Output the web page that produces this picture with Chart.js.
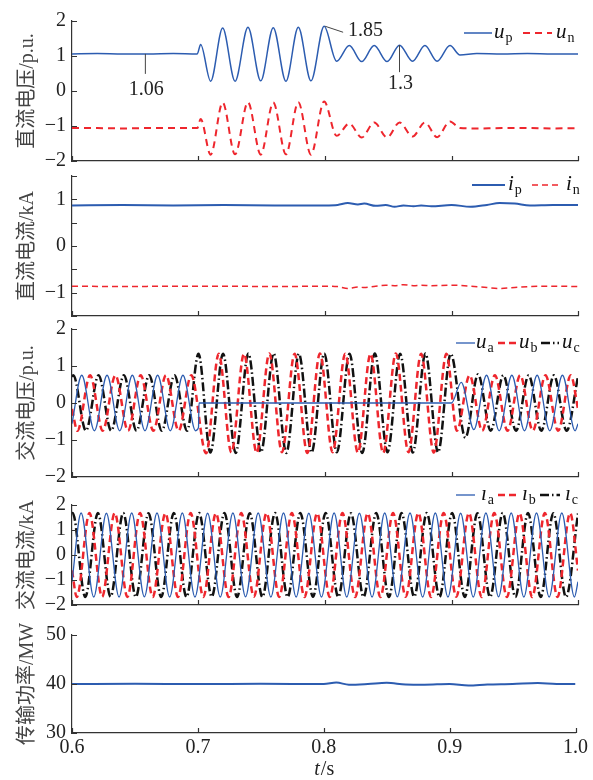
<!DOCTYPE html>
<html>
<head>
<meta charset="utf-8">
<script src="https://cdn.jsdelivr.net/npm/chart.js@4.4.1/dist/chart.umd.min.js"></script>
<style>
html, body { margin: 0; padding: 0; background: #fff; }
#wrap { position: relative; width: 593px; height: 780px; overflow: hidden; }
canvas { position: absolute; left: 0; }
</style>
</head>
<body>
<div id="wrap">
  <canvas id="c1"></canvas>
  <canvas id="c2"></canvas>
  <canvas id="c3"></canvas>
  <canvas id="c4"></canvas>
  <canvas id="c5"></canvas>
</div>
<script>
// ---- data (time in s) ----
// DC voltage, p.u. (peaks / troughs of the oscillation)
const dcT = [0.6, 0.62, 0.64, 0.66, 0.68, 0.699, 0.7017, 0.7096, 0.7191, 0.7289, 0.7391, 0.7492, 0.7591, 0.7691, 0.7789, 0.7889,
  0.7993, 0.8092, 0.8192, 0.829, 0.8389, 0.8491, 0.8589, 0.8692, 0.879, 0.8886, 0.8988, 0.9067, 0.92, 0.94, 0.96, 0.98, 1.0];
const upV = [1.06, 1.07, 1.06, 1.06, 1.07, 1.06, 1.33, 0.28, 1.80, 0.28, 1.82, 0.29, 1.81, 0.28, 1.82, 0.29,
  1.85, 0.85, 1.30, 0.84, 1.30, 0.84, 1.31, 0.85, 1.30, 0.85, 1.30, 1.03, 1.07, 1.06, 1.07, 1.06, 1.06];
const unV = [-1.06, -1.06, -1.07, -1.06, -1.06, -1.06, -0.80, -1.82, -0.33, -1.81, -0.32, -1.82, -0.33, -1.81, -0.32, -1.82,
  -0.30, -1.28, -0.93, -1.33, -0.90, -1.33, -0.90, -1.30, -0.90, -1.32, -0.87, -1.06, -1.07, -1.06, -1.06, -1.07, -1.06];

// DC current, kA
const dciT = [0.6, 0.64, 0.68, 0.72, 0.76, 0.8, 0.81, 0.818, 0.826, 0.831, 0.84, 0.848, 0.855, 0.862, 0.87, 0.876, 0.884,
  0.9, 0.915, 0.928, 0.938, 0.95, 0.962, 0.98, 1.0];
const ipV = [0.87, 0.88, 0.87, 0.88, 0.87, 0.87, 0.88, 0.92, 0.89, 0.91, 0.86, 0.88, 0.84, 0.87, 0.85, 0.87, 0.85,
  0.88, 0.84, 0.88, 0.92, 0.91, 0.87, 0.88, 0.88];
const inV = [-0.86, -0.87, -0.86, -0.86, -0.87, -0.86, -0.87, -0.91, -0.88, -0.89, -0.86, -0.84, -0.85, -0.83, -0.85, -0.84, -0.85,
  -0.84, -0.86, -0.89, -0.91, -0.89, -0.87, -0.86, -0.87];

// AC voltage, p.u. (extrema of each phase)
const uaT = [0.6, 0.6077, 0.6177, 0.6277, 0.6377, 0.6477, 0.6577, 0.6677, 0.6777, 0.6877, 0.6977, 0.7, 0.7004,
  0.9, 0.9077, 0.9177, 0.9277, 0.9377, 0.9477, 0.9577, 0.9677, 0.9777, 0.9877, 0.9977, 1.0];
const uaV = [-0.56, 0.75, -0.75, 0.75, -0.75, 0.75, -0.75, 0.75, -0.75, 0.75, -0.75, -0.66, 0,
  0, 0.56, -0.72, 0.75, -0.75, 0.75, -0.75, 0.75, -0.75, 0.75, -0.75, -0.56];
const ubT = [0.6, 0.6043, 0.6143, 0.6243, 0.6343, 0.6443, 0.6543, 0.6643, 0.6743, 0.6843, 0.6943,
  0.706, 0.716, 0.726, 0.736, 0.746, 0.756, 0.766, 0.776, 0.786, 0.796, 0.806, 0.816, 0.826, 0.836, 0.846, 0.856, 0.866, 0.876, 0.886, 0.896,
  0.9043, 0.9143, 0.9243, 0.9343, 0.9443, 0.9543, 0.9643, 0.9743, 0.9843, 0.9943, 1.0];
const ubV = [-0.16, -0.75, 0.75, -0.75, 0.75, -0.75, 0.75, -0.75, 0.75, -0.75, 0.75,
  -1.36, 1.33, -1.34, 1.33, -1.35, 1.34, -1.33, 1.33, -1.35, 1.34, -1.33, 1.33, -1.34, 1.33, -1.35, 1.34, -1.33, 1.33, -1.34, 1.33,
  -0.75, 0.75, -0.75, 0.75, -0.75, 0.75, -0.75, 0.75, -0.75, 0.75, -0.16];
const ucT = [0.6, 0.601, 0.611, 0.621, 0.631, 0.641, 0.651, 0.661, 0.671, 0.681, 0.691,
  0.7, 0.7094, 0.7194, 0.7294, 0.7394, 0.7494, 0.7594, 0.7694, 0.7794, 0.7894, 0.7994, 0.8094, 0.8194, 0.8294, 0.8394, 0.8494, 0.8594, 0.8694, 0.8794, 0.8894, 0.8994,
  0.911, 0.921, 0.931, 0.941, 0.951, 0.961, 0.971, 0.981, 0.991, 1.0];
const ucV = [0.71, 0.75, -0.75, 0.75, -0.75, 0.75, -0.75, 0.75, -0.75, 0.75, -0.75,
  1.33, -1.34, 1.33, -1.35, 1.34, -1.33, 1.34, -1.35, 1.33, -1.34, 1.34, -1.33, 1.33, -1.35, 1.34, -1.33, 1.33, -1.34, 1.34, -1.33, 1.33,
  -0.94, 0.78, -0.75, 0.75, -0.75, 0.75, -0.75, 0.75, -0.75, 0.71];

// AC current, kA (extrema of each phase)
const iaT = [0.6,
  0.6072, 0.6172, 0.6272, 0.6372, 0.6472, 0.6572, 0.6672, 0.6772, 0.6872, 0.6972,
  0.7072, 0.7172, 0.7272, 0.7372, 0.7472, 0.7572, 0.7672, 0.7772, 0.7872, 0.7972,
  0.8072, 0.8172, 0.8272, 0.8372, 0.8472, 0.8572, 0.8672, 0.8772, 0.8872, 0.8972,
  0.9072, 0.9172, 0.9272, 0.9372, 0.9472, 0.9572, 0.9672, 0.9772, 0.9872, 0.9972, 1.0];
const iaV = [-1.07,
  1.68, -1.68, 1.67, -1.68, 1.68, -1.67, 1.68, -1.68, 1.68, -1.68,
  1.67, -1.68, 1.68, -1.67, 1.68, -1.68, 1.68, -1.68, 1.67, -1.68,
  1.68, -1.68, 1.67, -1.68, 1.68, -1.67, 1.68, -1.68, 1.68, -1.68,
  1.67, -1.68, 1.68, -1.67, 1.68, -1.68, 1.68, -1.68, 1.68, -1.68, -1.07];
const ibT = [0.6,
  0.6038, 0.6138, 0.6238, 0.6338, 0.6438, 0.6538, 0.6638, 0.6738, 0.6838, 0.6938,
  0.7038, 0.7138, 0.7238, 0.7338, 0.7438, 0.7538, 0.7638, 0.7738, 0.7838, 0.7938,
  0.8038, 0.8138, 0.8238, 0.8338, 0.8438, 0.8538, 0.8638, 0.8738, 0.8838, 0.8938,
  0.9038, 0.9138, 0.9238, 0.9338, 0.9438, 0.9538, 0.9638, 0.9738, 0.9838, 0.9938, 1.0];
const ibV = [-0.62,
  -1.68, 1.68, -1.67, 1.68, -1.68, 1.68, -1.68, 1.67, -1.68, 1.68,
  -1.68, 1.67, -1.68, 1.68, -1.67, 1.68, -1.68, 1.68, -1.68, 1.67,
  -1.68, 1.68, -1.68, 1.67, -1.68, 1.68, -1.67, 1.68, -1.68, 1.68,
  -1.67, 1.68, -1.68, 1.68, -1.68, 1.67, -1.68, 1.68, -1.68, 1.68, -0.62];
const icT = [0.6,
  0.6005, 0.6105, 0.6205, 0.6305, 0.6405, 0.6505, 0.6605, 0.6705, 0.6805, 0.6905,
  0.7005, 0.7105, 0.7205, 0.7305, 0.7405, 0.7505, 0.7605, 0.7705, 0.7805, 0.7905,
  0.8005, 0.8105, 0.8205, 0.8305, 0.8405, 0.8505, 0.8605, 0.8705, 0.8805, 0.8905,
  0.9005, 0.9105, 0.9205, 0.9305, 0.9405, 0.9505, 0.9605, 0.9705, 0.9805, 0.9905, 1.0];
const icV = [1.66,
  1.68, -1.68, 1.68, -1.67, 1.68, -1.68, 1.67, -1.68, 1.68, -1.68,
  1.68, -1.67, 1.68, -1.68, 1.67, -1.68, 1.68, -1.68, 1.68, -1.67,
  1.68, -1.68, 1.67, -1.68, 1.68, -1.68, 1.68, -1.67, 1.68, -1.68,
  1.68, -1.68, 1.67, -1.68, 1.68, -1.68, 1.68, -1.68, 1.67, -1.68, 1.66];

// transmitted power, MW
const pT = [0.6, 0.65, 0.7, 0.75, 0.8, 0.81, 0.82, 0.835, 0.85, 0.865, 0.88, 0.9, 0.915, 0.93, 0.95, 0.97, 0.985, 1.0];
const pV = [40, 40.05, 40, 40.05, 40, 40.3, 39.85, 40, 40.25, 39.9, 39.85, 40, 39.7, 39.9, 40, 40.2, 40, 40];

// ---- styling ----
const SERIF = "'Liberation Serif', 'Times New Roman', serif";
const TITLE_FONT = "'Liberation Serif', 'Noto Sans CJK SC', sans-serif";
const BLUE = '#2c5cb0', RED = '#ee262d', BLACK = '#111111';
const MINUS = '\u2212';

function pts(T, V) { return T.map((t, i) => ({ x: t, y: V[i] })); }
function intLabel(v) {
  if (!Number.isInteger(v)) return '';
  return v < 0 ? MINUS + String(-v) : String(v);
}

const deco = {
  id: 'deco',
  afterDraw(chart, args, o) {
    const { ctx, chartArea: a, scales: { x, y } } = chart;
    ctx.save();
    // inward tick marks
    ctx.strokeStyle = '#333';
    ctx.lineWidth = 1.2;
    ctx.beginPath();
    x.ticks.forEach(t => {
      const px = Math.round(x.getPixelForValue(t.value)) + 0.5;
      ctx.moveTo(px, a.bottom); ctx.lineTo(px, a.bottom - 5);
    });
    y.ticks.forEach(t => {
      const py = Math.round(y.getPixelForValue(t.value)) + 0.5;
      ctx.moveTo(a.left, py); ctx.lineTo(a.left + 5, py);
    });
    ctx.stroke();

    // legend with italic symbol and subscript
    (o.legend || []).forEach(it => {
      const ds = chart.data.datasets[it.ds];
      const yy = it.y - o.top;
      ctx.save();
      ctx.strokeStyle = ds.borderColor;
      ctx.lineWidth = ds.borderWidth;
      ctx.setLineDash(ds.borderDash || []);
      ctx.beginPath(); ctx.moveTo(it.x1, yy); ctx.lineTo(it.x2, yy); ctx.stroke();
      ctx.restore();
      ctx.fillStyle = '#111';
      ctx.textAlign = 'left';
      ctx.textBaseline = 'alphabetic';
      ctx.font = 'italic 21px ' + SERIF;
      ctx.fillText(it.sym, it.tx, yy + 5);
      const w = ctx.measureText(it.sym).width;
      ctx.font = '14px ' + SERIF;
      ctx.fillText(it.sub, it.tx + w + 1, yy + 9);
    });

    // value notes with leader lines
    (o.notes || []).forEach(n => {
      const px = x.getPixelForValue(n.t), py = y.getPixelForValue(n.v);
      ctx.strokeStyle = '#444'; ctx.lineWidth = 1;
      ctx.beginPath();
      ctx.moveTo(px + n.l[0], py + n.l[1]); ctx.lineTo(px + n.l[2], py + n.l[3]);
      ctx.stroke();
      ctx.fillStyle = '#222';
      ctx.font = '20px ' + SERIF;
      ctx.textAlign = n.align;
      ctx.textBaseline = 'middle';
      ctx.fillText(n.text, px + n.tx, py + n.ty);
    });

    // x-axis title with italic t
    if (o.xTitle) {
      const cx = (a.left + a.right) / 2, yy = o.xTitle.y - o.top;
      ctx.fillStyle = '#222';
      ctx.textBaseline = 'middle';
      ctx.textAlign = 'left';
      ctx.font = 'italic 20px ' + SERIF;
      const w1 = ctx.measureText('t').width;
      ctx.font = '20px ' + SERIF;
      const w2 = ctx.measureText('/s').width;
      const x0 = cx - (w1 + w2) / 2;
      ctx.font = 'italic 20px ' + SERIF;
      ctx.fillText('t', x0, yy);
      ctx.font = '20px ' + SERIF;
      ctx.fillText('/s', x0 + w1 + 1, yy);
    }
    ctx.restore();
  }
};

function panel(id, plotTop, plotH, showX, yScale, title, datasets, extra) {
  const padTop = 16;
  const padBottom = showX ? 0 : 16;
  const xH = showX ? 47 : 0;
  const cv = document.getElementById(id);
  const top = plotTop - padTop;
  cv.width = 593;
  cv.height = padTop + plotH + padBottom + xH;
  cv.style.top = top + 'px';
  extra.top = top;
  return new Chart(cv, {
    type: 'line',
    data: { datasets },
    options: {
      responsive: false,
      animation: false,
      events: [],
      layout: { padding: { left: 0, right: 15, top: padTop, bottom: padBottom } },
      elements: {
        point: { radius: 0 },
        line: { cubicInterpolationMode: 'monotone', borderCapStyle: 'butt', borderJoinStyle: 'round' }
      },
      plugins: { legend: { display: false }, tooltip: { enabled: false }, deco: extra },
      scales: {
        x: {
          type: 'linear', min: 0.6, max: 1.0,
          grid: { display: false, drawTicks: false },
          border: { display: true, color: '#333', width: 1.2 },
          ticks: {
            display: showX, stepSize: 0.1, padding: 5, autoSkip: false, maxRotation: 0,
            color: '#222', font: { family: SERIF, size: 20, lineHeight: 1 },
            callback: v => v.toFixed(1)
          },
          afterFit: s => { s.height = xH; }
        },
        y: {
          type: 'linear', min: yScale.min, max: yScale.max,
          grid: { display: false, drawTicks: false },
          border: { display: true, color: '#333', width: 1.2 },
          ticks: {
            stepSize: yScale.step, padding: 6, autoSkip: false,
            color: '#222', font: { family: SERIF, size: 20, lineHeight: 1 },
            callback: intLabel
          },
          title: {
            display: true, text: title, color: '#444',
            font: { family: TITLE_FONT, size: 20 },
            padding: { top: 16, bottom: 0 }
          },
          afterFit: s => { s.width = 72; }
        }
      }
    },
    plugins: [deco]
  });
}

// 1: DC voltage
panel('c1', 21, 140, false, { min: -2, max: 2, step: 1 }, '直流电压/p.u.', [
  { label: 'up', data: pts(dcT, upV), borderColor: BLUE, borderWidth: 1.5 },
  { label: 'un', data: pts(dcT, unV), borderColor: RED, borderWidth: 2, borderDash: [7, 5] }
], {
  legend: [
    { ds: 0, x1: 464, x2: 492, y: 33, tx: 494, sym: 'u', sub: 'p' },
    { ds: 1, x1: 523, x2: 552, y: 33, tx: 556, sym: 'u', sub: 'n' }
  ],
  notes: [
    { t: 0.658, v: 1.06, l: [0, 0, 0, 20], text: '1.06', tx: 1, ty: 36, align: 'center' },
    { t: 0.7993, v: 1.85, l: [1, 0, 19, 6], text: '1.85', tx: 24, ty: 4, align: 'left' },
    { t: 0.8589, v: 1.31, l: [0, 0, 0, 27], text: '1.3', tx: 1, ty: 39, align: 'center' }
  ]
});

// 2: DC current
panel('c2', 176, 140, false, { min: -1.5, max: 1.5, step: 0.5 }, '直流电流/kA', [
  { label: 'ip', data: pts(dciT, ipV), borderColor: BLUE, borderWidth: 2 },
  { label: 'in', data: pts(dciT, inV), borderColor: RED, borderWidth: 1.5, borderDash: [6, 4] }
], {
  legend: [
    { ds: 0, x1: 472, x2: 505, y: 185, tx: 508, sym: 'i', sub: 'p' },
    { ds: 1, x1: 532, x2: 561, y: 185, tx: 566, sym: 'i', sub: 'n' }
  ]
});

// 3: AC voltage
panel('c3', 329, 148, false, { min: -2, max: 2, step: 1 }, '交流电压/p.u.', [
  { label: 'ua', data: pts(uaT, uaV), borderColor: BLUE, borderWidth: 1.3 },
  { label: 'ub', data: pts(ubT, ubV), borderColor: RED, borderWidth: 2.5, borderDash: [7, 4] },
  { label: 'uc', data: pts(ucT, ucV), borderColor: BLACK, borderWidth: 2.5, borderDash: [9, 3, 1.5, 3] }
], {
  legend: [
    { ds: 0, x1: 456, x2: 475, y: 343, tx: 476, sym: 'u', sub: 'a' },
    { ds: 1, x1: 498, x2: 517, y: 343, tx: 519, sym: 'u', sub: 'b' },
    { ds: 2, x1: 541, x2: 559, y: 343, tx: 562, sym: 'u', sub: 'c' }
  ]
});

// 4: AC current
panel('c4', 505, 100, false, { min: -2, max: 2, step: 1 }, '交流电流/kA', [
  { label: 'ia', data: pts(iaT, iaV), borderColor: BLUE, borderWidth: 1.3 },
  { label: 'ib', data: pts(ibT, ibV), borderColor: RED, borderWidth: 2.5, borderDash: [7, 4] },
  { label: 'ic', data: pts(icT, icV), borderColor: BLACK, borderWidth: 2.5, borderDash: [9, 3, 1.5, 3] }
], {
  legend: [
    { ds: 0, x1: 456, x2: 475, y: 495, tx: 481, sym: 'i', sub: 'a' },
    { ds: 1, x1: 498, x2: 518, y: 495, tx: 522, sym: 'i', sub: 'b' },
    { ds: 2, x1: 540, x2: 560, y: 495, tx: 565, sym: 'i', sub: 'c' }
  ]
});

// 5: transmitted power
panel('c5', 635, 98, true, { min: 30, max: 50, step: 10 }, '传输功率/MW', [
  { label: 'P', data: pts(pT, pV), borderColor: BLUE, borderWidth: 2 }
], {
  xTitle: { y: 770 }
});
</script>
</body>
</html>
